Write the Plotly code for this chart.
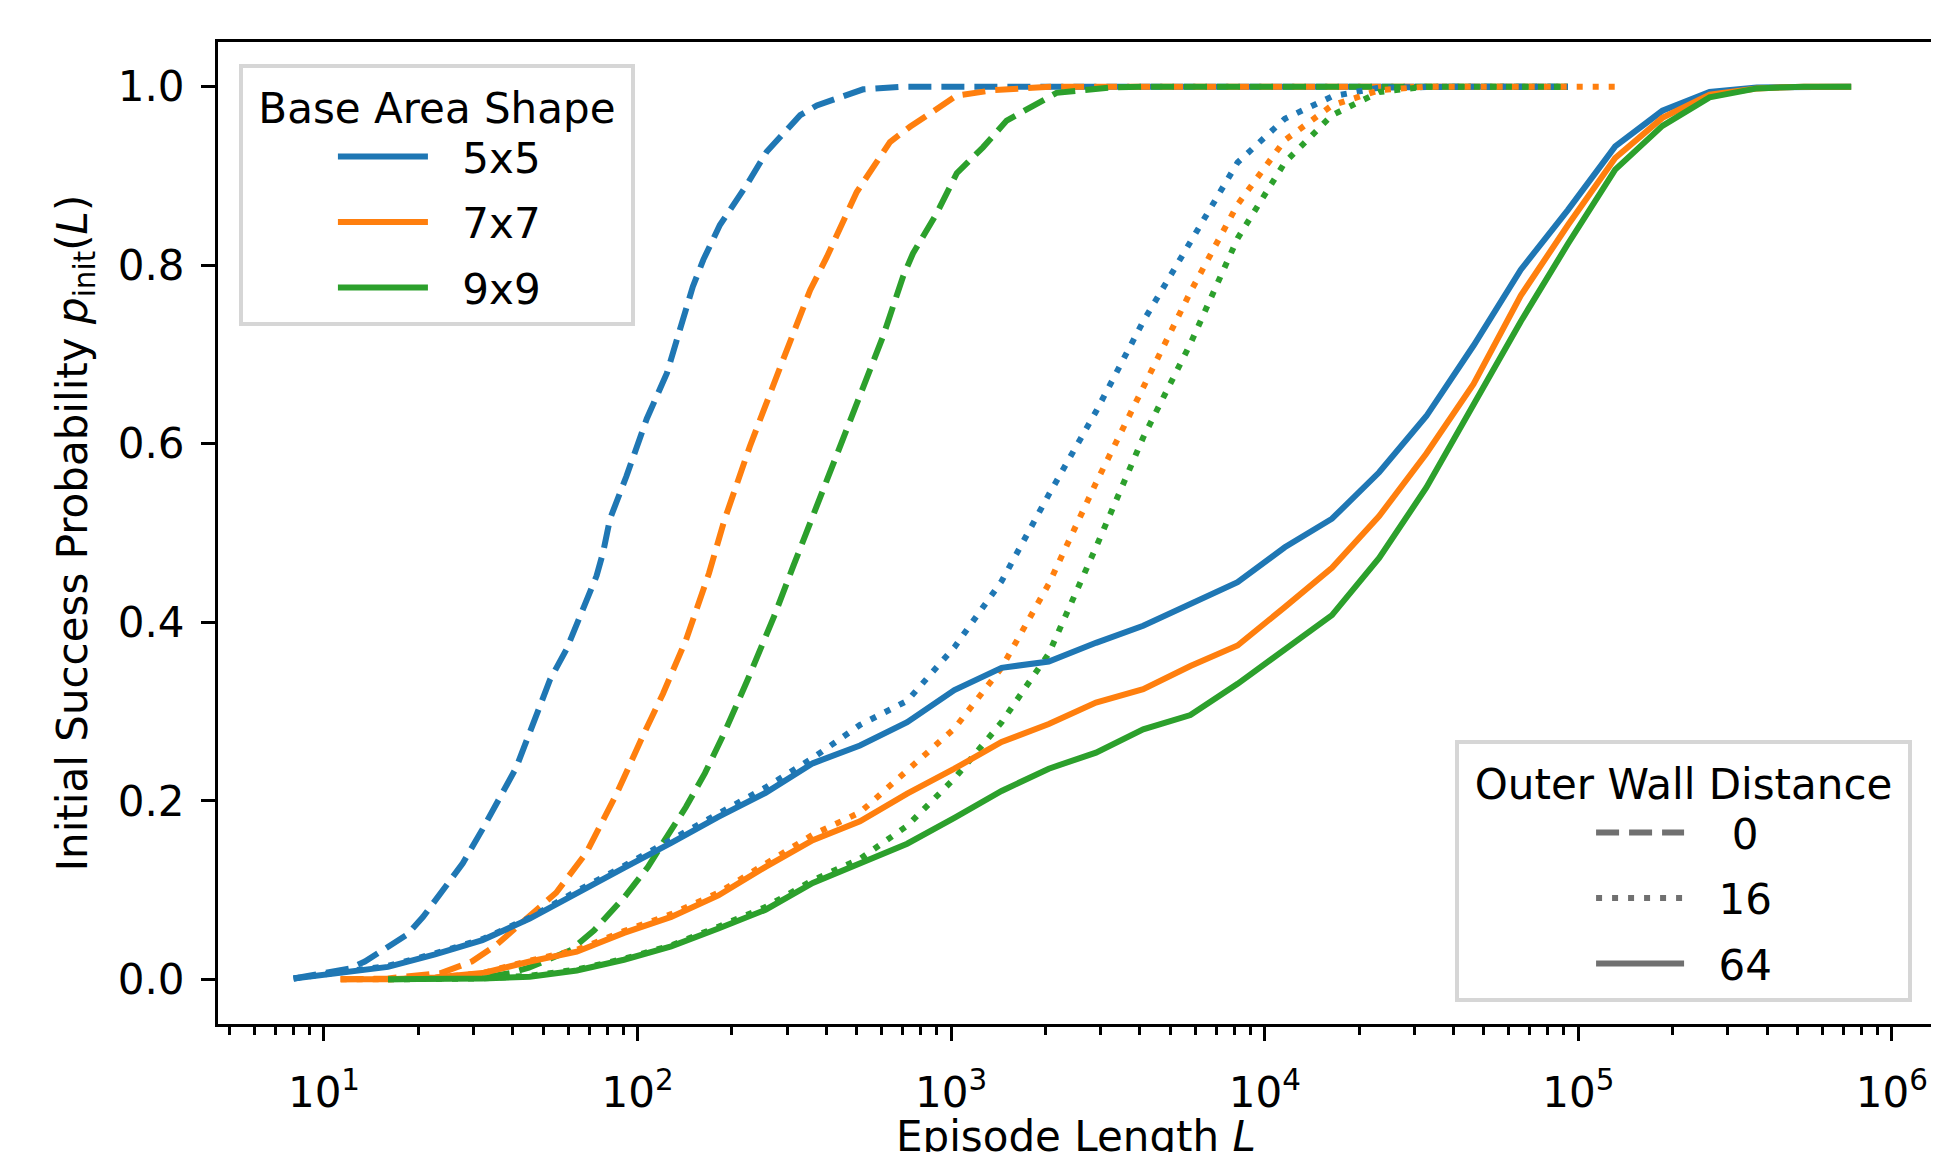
import plotly.graph_objects as go

# ---------------- data ----------------
L_GRID = [8, 11.3, 16, 22.6, 32, 45.3, 64, 90.5, 128, 181, 256, 362, 512, 724,
          1024, 1448, 2048, 2896, 4096, 5793, 8192, 11585, 16384, 23170, 32768,
          46341, 65536, 92682, 131072, 185364, 262144, 370728, 524288, 741455]

# Outer wall distance 64 (solid)
L_w64_5 = L_GRID[0:]
p_w64_5 = [0.001, 0.008, 0.014, 0.028, 0.044, 0.068, 0.097, 0.125, 0.153, 0.182,
           0.209, 0.242, 0.262, 0.288, 0.324, 0.349, 0.356, 0.377, 0.396, 0.421,
           0.445, 0.484, 0.516, 0.568, 0.631, 0.710, 0.795, 0.862, 0.933, 0.973,
           0.994, 0.999, 1.0, 1.0]
L_w64_7 = L_GRID[1:]
p_w64_7 = [0.0, 0.0, 0.002, 0.007, 0.020, 0.031, 0.052, 0.070, 0.094, 0.126,
           0.156, 0.177, 0.208, 0.236, 0.266, 0.286, 0.310, 0.325, 0.351, 0.374,
           0.417, 0.461, 0.519, 0.589, 0.667, 0.766, 0.845, 0.920, 0.965, 0.991,
           0.998, 1.0, 1.0]
L_w64_9 = L_GRID[2:]
p_w64_9 = [0.0, 0.0, 0.001, 0.003, 0.010, 0.022, 0.037, 0.057, 0.078, 0.108,
           0.130, 0.152, 0.181, 0.211, 0.236, 0.254, 0.280, 0.296, 0.331, 0.369,
           0.408, 0.472, 0.551, 0.644, 0.737, 0.824, 0.907, 0.956, 0.988, 0.998,
           1.0, 1.0]

# Outer wall distance 16 (dotted)
L_w16_5 = L_GRID[0:28]
p_w16_5 = [0.001, 0.008, 0.015, 0.029, 0.045, 0.069, 0.099, 0.127, 0.156, 0.186,
           0.215, 0.248, 0.285, 0.312, 0.372, 0.446, 0.543, 0.636, 0.737, 0.826,
           0.915, 0.964, 0.989, 0.999, 1.0, 1.0, 1.0, 1.0]
L_w16_7 = L_GRID[1:29]
p_w16_7 = [0.0, 0.0, 0.002, 0.007, 0.021, 0.033, 0.054, 0.073, 0.097, 0.130,
           0.162, 0.187, 0.234, 0.281, 0.349, 0.443, 0.556, 0.663, 0.770, 0.868,
           0.940, 0.979, 0.996, 1.0, 1.0, 1.0, 1.0, 1.0]
L_w16_9 = L_GRID[2:28]
p_w16_9 = [0.0, 0.0, 0.001, 0.004, 0.011, 0.023, 0.038, 0.059, 0.081, 0.111,
           0.135, 0.172, 0.225, 0.288, 0.365, 0.484, 0.607, 0.712, 0.830, 0.915,
           0.968, 0.994, 1.0, 1.0, 1.0, 1.0]

# Outer wall distance 0 (dashed)
L_w0_5 = [8, 12, 13.5, 18.4, 20.7, 27.7, 32, 41, 48.8, 52.6,
          59.4, 67, 74, 77.6, 81.7, 92, 107, 124, 150, 162,
          183, 223, 258, 330, 373, 524, 702, 1024, 2048, 4096,
          8192, 16384, 32768, 65536, 92682]
p_w0_5 = [0.001, 0.012, 0.020, 0.050, 0.070, 0.130, 0.168, 0.237, 0.306, 0.336,
          0.370, 0.417, 0.452, 0.478, 0.516, 0.563, 0.628, 0.679, 0.776, 0.806,
          0.845, 0.890, 0.927, 0.968, 0.979, 0.997, 1.0, 1.0, 1.0, 1.0,
          1.0, 1.0, 1.0, 1.0, 1.0]
L_w0_7 = [11.3, 16, 23.6, 29.6, 35, 43.8, 55, 68.7, 79, 86,
          105, 120.5, 142.6, 169, 189, 228, 291, 355, 401, 500,
          638, 739, 1042, 1360, 2066, 4096, 8192, 16384, 32768, 65536,
          92682]
p_w0_7 = [0.0, 0.001, 0.007, 0.020, 0.037, 0.066, 0.097, 0.142, 0.182, 0.209,
          0.276, 0.320, 0.380, 0.455, 0.514, 0.597, 0.694, 0.772, 0.809, 0.882,
          0.938, 0.955, 0.990, 0.996, 1.0, 1.0, 1.0, 1.0, 1.0, 1.0,
          1.0]
L_w0_9 = [16, 32, 39.2, 45, 61.4, 72.7, 91.2, 108, 120.5, 142.6,
          164, 189, 224, 272, 313, 372, 476, 606, 702, 755,
          899, 1042, 1263, 1503, 2168, 3206, 4096, 8192, 16384, 32768,
          65536, 92682]
p_w0_9 = [0.0, 0.002, 0.007, 0.013, 0.033, 0.055, 0.093, 0.126, 0.153, 0.193,
          0.231, 0.276, 0.335, 0.406, 0.462, 0.529, 0.623, 0.720, 0.787, 0.813,
          0.858, 0.903, 0.932, 0.962, 0.993, 0.999, 1.0, 1.0, 1.0, 1.0,
          1.0, 1.0]

SHAPES = ["5x5", "7x7", "9x9"]
WALLS = ["0", "16", "64"]
Y_TICKS = [0.0, 0.2, 0.4, 0.6, 0.8, 1.0]
X_TICKS = [10, 100, 1000, 10000, 100000, 1000000]
X_TICK_TEXT = ["10<sup>1</sup>", "10<sup>2</sup>", "10<sup>3</sup>",
               "10<sup>4</sup>", "10<sup>5</sup>", "10<sup>6</sup>"]
X_TITLE = "Episode Length <i>L</i>"
Y_TITLE = "Initial Success Probability <i>p</i><sub>init</sub>(<i>L</i>)"

# ---------------- styles ----------------
COLORS = ["#1f77b4", "#ff7f0e", "#2ca02c"]
DASHES = {"0": "23px,10px", "16": "6px,10px", "64": "solid"}
LW = 6
FONT = "DejaVu Sans"
FS = 42
GAP = "\u2002\u2009"

series = {
    "0": [(L_w0_5, p_w0_5), (L_w0_7, p_w0_7), (L_w0_9, p_w0_9)],
    "16": [(L_w16_5, p_w16_5), (L_w16_7, p_w16_7), (L_w16_9, p_w16_9)],
    "64": [(L_w64_5, p_w64_5), (L_w64_7, p_w64_7), (L_w64_9, p_w64_9)],
}

fig = go.Figure()
for w in WALLS:
    for i, (xs, ys) in enumerate(series[w]):
        fig.add_trace(go.Scatter(
            x=xs, y=ys, mode="lines", showlegend=False,
            line=dict(color=COLORS[i], width=LW, dash=DASHES[w]),
            hoverinfo="skip"))

# legend entries: shapes
for i, s in enumerate(SHAPES):
    fig.add_trace(go.Scatter(
        x=[None], y=[None], mode="lines", name=GAP + s, legend="legend",
        legendgroup="s" + s,
        line=dict(color=COLORS[i], width=LW)))
# legend entries: walls
WALL_LABELS = {"0": "\u00a00", "16": "16", "64": "64"}
for w in WALLS:
    fig.add_trace(go.Scatter(
        x=[None], y=[None], mode="lines", name=GAP + WALL_LABELS[w],
        legend="legend2", legendgroup="w" + w,
        line=dict(color="#707070", width=LW, dash=DASHES[w])))

minor_vals = [m * 10 ** e for e in range(0, 7) for m in range(2, 10)]

# the page body adds an 8 px offset; the figure is sized to fill the rest
fig.update_layout(
    width=1931, height=1144,
    margin=dict(l=210, r=6, t=34, b=128, autoexpand=False),
    paper_bgcolor="white", plot_bgcolor="white",
    font=dict(family=FONT, size=FS, color="black"),
    xaxis=dict(
        type="log", range=[0.662, 6.131], automargin=False,
        tickmode="array", tickvals=X_TICKS, ticktext=X_TICK_TEXT,
        ticks="outside", ticklen=14, tickwidth=3, tickcolor="black",
        minor=dict(ticks="outside", ticklen=8, tickwidth=2.5, tickcolor="black",
                   tickmode="array", tickvals=minor_vals, showgrid=False),
        showline=True, linecolor="black", linewidth=3, mirror=True,
        showgrid=False, zeroline=False,
        ticklabelstandoff=16,
    ),
    yaxis=dict(
        range=[-0.05, 1.05], tickmode="array", tickvals=Y_TICKS,
        tickformat=".1f", automargin=False,
        ticks="outside", ticklen=14, tickwidth=3, tickcolor="black",
        showline=True, linecolor="black", linewidth=3, mirror=True,
        showgrid=False, zeroline=False,
        ticklabelstandoff=8,
        title=dict(text=Y_TITLE, standoff=18, font=dict(family=FONT, size=FS)),
    ),
    annotations=[dict(
        text=X_TITLE, xref="paper", yref="paper", x=0.5, y=-0.1141,
        xanchor="center", yanchor="middle", showarrow=False,
        font=dict(family=FONT, size=FS, color="black"))],
    legend=dict(
        title=dict(text="\u00a0Base Area Shape\u00a0", side="top center",
                   font=dict(family=FONT, size=FS)),
        x=0.0122, y=0.9776, xanchor="left", yanchor="top",
        bgcolor="rgba(255,255,255,0.8)", bordercolor="#d6d6d6", borderwidth=4,
        font=dict(family=FONT, size=FS), traceorder="grouped",
        tracegroupgap=8, itemwidth=90, indentation=90,
    ),
    legend2=dict(
        title=dict(text="\u00a0Outer Wall Distance\u00a0", side="top center",
                   font=dict(family=FONT, size=FS)),
        x=0.9878, y=0.0224, xanchor="right", yanchor="bottom",
        bgcolor="rgba(255,255,255,0.8)", bordercolor="#d6d6d6", borderwidth=4,
        font=dict(family=FONT, size=FS), traceorder="grouped",
        tracegroupgap=8, itemwidth=88, indentation=132,
    ),
)

fig.write_html("out.html")
